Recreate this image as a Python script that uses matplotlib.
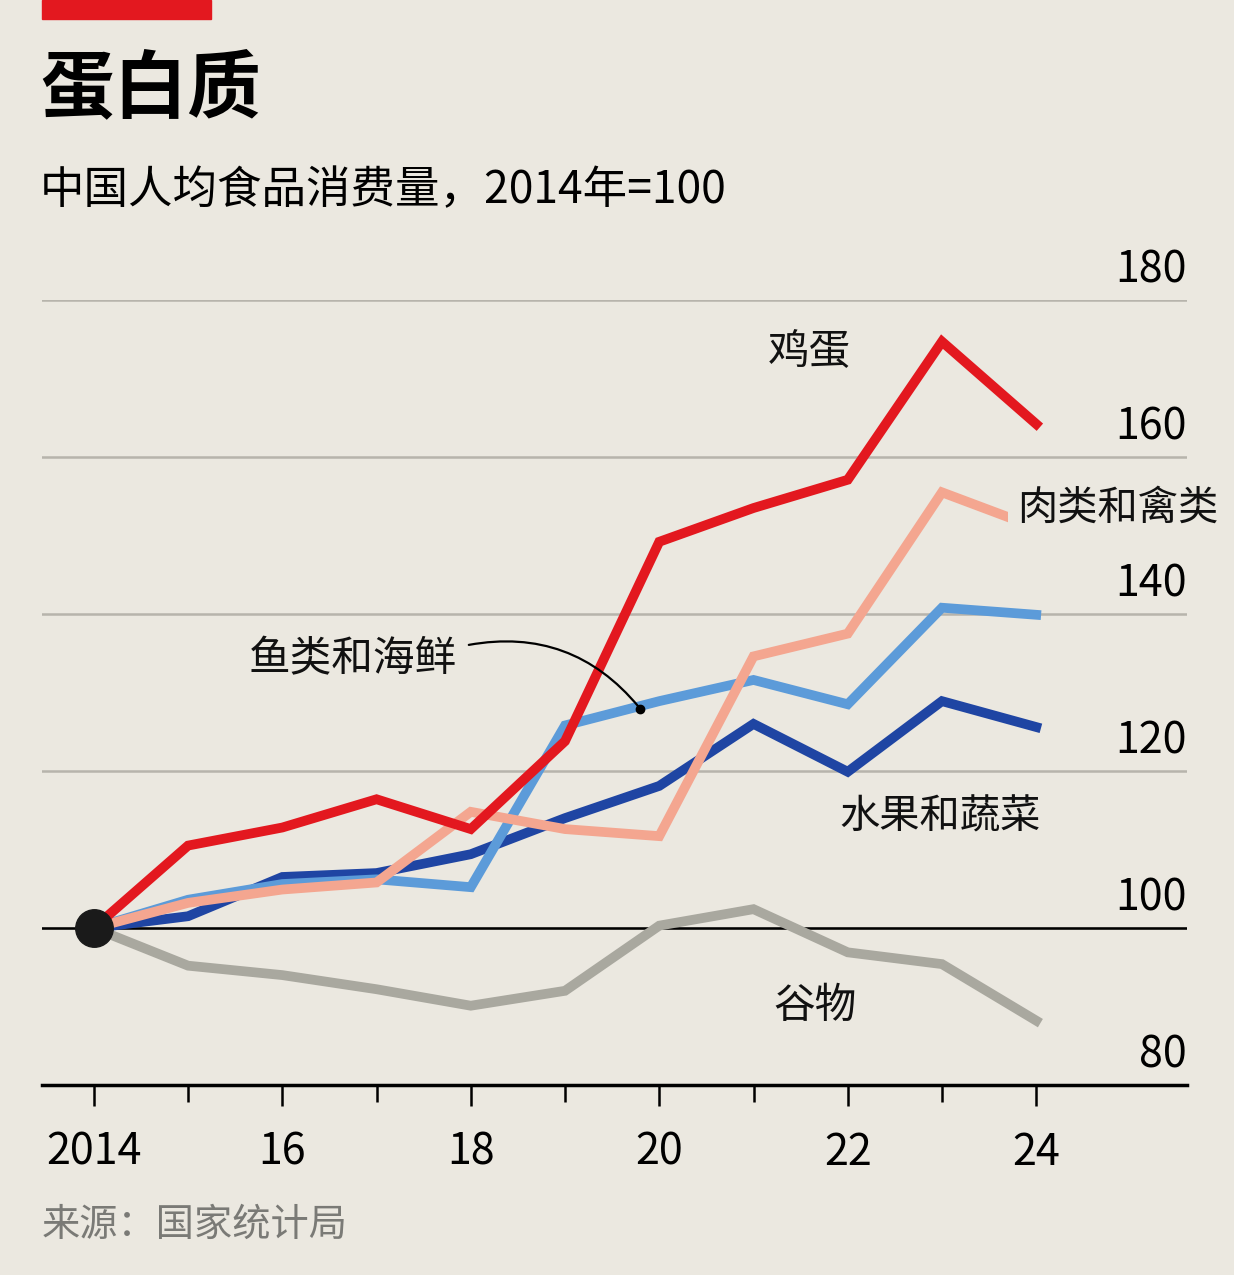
import matplotlib.pyplot as plt
from matplotlib.ticker import FixedLocator

# 数据（2014年=100）
years = list(range(2014, 2025))
eggs = [100, 110.5, 112.8, 116.4, 112.6, 123.8, 149.2, 153.5, 157.1, 174.7, 164.2]
meat = [100, 103.2, 104.9, 105.8, 114.8, 112.6, 111.7, 134.6, 137.5, 155.5, 151.0]
fish = [100, 103.6, 105.6, 106.2, 105.2, 125.8, 128.9, 131.6, 128.5, 140.8, 139.9]
fruit_veg = [100, 101.5, 106.5, 107.0, 109.4, 114.0, 118.1, 126.0, 119.9, 128.9, 125.6]
grain = [100, 95.2, 94.0, 92.2, 90.1, 92.0, 100.3, 102.4, 96.9, 95.4, 88.2]

y_ticks = [80, 100, 120, 140, 160, 180]
x_ticks = [2014, 2016, 2018, 2020, 2022, 2024]
x_minor = [2015, 2017, 2019, 2021, 2023]
x_labels = ['2014', '16', '18', '20', '22', '24']

bg = '#ebe8e0'
cjk = ['Noto Sans CJK SC', 'DejaVu Sans']

fig = plt.figure(figsize=(12.34, 12.75), dpi=100, facecolor=bg)
ax = fig.add_axes([42 / 1234, 1 - 1085 / 1275, (1187 - 42) / 1234, (1085 - 300) / 1275])
ax.set_facecolor(bg)
ax.set_xlim(2013.45, 2025.6)
ax.set_ylim(80, 180)

# 网格线
for v in y_ticks[1:]:
    ax.axhline(v, color='#b7b4ac', lw=1.8, zorder=1)
ax.axhline(100, color='black', lw=1.8, zorder=2)

lw = 7
ax.plot(years, grain, color='#a9a89f', lw=lw, solid_joinstyle='miter', zorder=3)
ax.plot(years, fruit_veg, color='#1f45a3', lw=lw, solid_joinstyle='miter', zorder=4)
ax.plot(years, fish, color='#5c9bd9', lw=lw, solid_joinstyle='miter', zorder=5)
ax.plot(years, meat, color='#f4a690', lw=lw, solid_joinstyle='miter', zorder=6)
ax.plot(years, eggs, color='#e3181f', lw=lw, solid_joinstyle='miter', zorder=7, clip_on=False)
ax.plot([2014], [100], 'o', color='#1a1a1a', ms=27, zorder=9)

# 系列标签
lab = dict(family=cjk, color='#111111', va='center')
ax.text(2021.59, 173.3, '鸡蛋', ha='center', fontsize=30, **lab)
ax.text(2023.8, 153.5, '肉类和禽类', ha='left', fontsize=29, zorder=8,
        bbox=dict(facecolor=bg, edgecolor='none', pad=7), **lab)
ax.text(2022.98, 114.1, '水果和蔬菜', ha='center', fontsize=29, **lab)
ax.text(2021.65, 90.0, '谷物', ha='center', fontsize=30, **lab)
ax.text(2016.75, 134.2, '鱼类和海鲜', ha='center', fontsize=30, **lab)
ax.annotate('', xy=(2019.8, 127.9), xytext=(2017.95, 136.0),
            arrowprops=dict(arrowstyle='-', color='black', lw=1.6,
                            connectionstyle='arc3,rad=-0.3'), zorder=10)
ax.plot([2019.8], [127.9], 'o', color='black', ms=6, zorder=10)

# 坐标轴
for s in ['top', 'right', 'left']:
    ax.spines[s].set_visible(False)
ax.spines['bottom'].set_linewidth(2.5)
ax.spines['bottom'].set_zorder(10)
ax.set_xticks(x_ticks)
ax.set_xticklabels(x_labels, family=cjk, fontsize=31)
ax.xaxis.set_minor_locator(FixedLocator(x_minor))
ax.tick_params(axis='x', which='major', length=15, width=1.8, direction='out', pad=18)
ax.tick_params(axis='x', which='minor', length=12, width=1.8, direction='out')
ax.set_yticks([])
for v in y_ticks:
    ax.text(1.0, v + 1.0, str(v), transform=ax.get_yaxis_transform(),
            ha='right', va='bottom', fontsize=31, family=cjk)

# 标题
fig.patches.append(plt.Rectangle((42 / 1234, 1 - 19 / 1275), 169 / 1234, 19 / 1275,
                                 transform=fig.transFigure, color='#e3181f'))
fig.text(40 / 1234, 1 - 90 / 1275, '蛋白质', fontsize=53, weight='bold',
         family=cjk, va='center', ha='left')
fig.text(40 / 1234, 1 - 190 / 1275, '中国人均食品消费量，2014年=100', fontsize=32,
         family=cjk, va='center', ha='left')
fig.text(42 / 1234, 1 - 1225 / 1275, '来源：国家统计局', fontsize=27.5,
         family=cjk, color='#7a7a76', va='center', ha='left')

fig.savefig('out.png', dpi=100, facecolor=bg)
